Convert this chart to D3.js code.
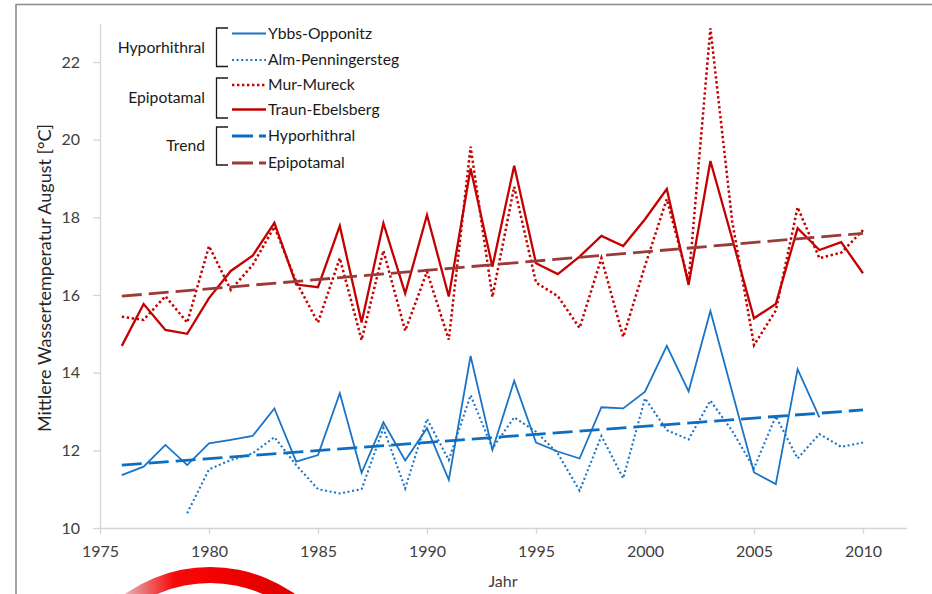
<!DOCTYPE html>
<html>
<head>
<meta charset="utf-8">
<script src="https://cdn.jsdelivr.net/npm/d3@7"></script>
<style>
  html, body { margin: 0; padding: 0; background: #fff; }
  svg { display: block; font-family: Lato, "Open Sans", sans-serif; }
</style>
</head>
<body>
<svg id="chart" width="932" height="594"></svg>
<script>
// August mean water temperature per year and river station
const years = [1976, 1977, 1978, 1979, 1980, 1981, 1982, 1983, 1984, 1985,
               1986, 1987, 1988, 1989, 1990, 1991, 1992, 1993, 1994, 1995,
               1996, 1997, 1998, 1999, 2000, 2001, 2002, 2003, 2004, 2005,
               2006, 2007, 2008, 2009, 2010];

const ybbsOpponitz = [11.36, 11.58, 12.14, 11.62, 12.18, 12.27, 12.37, 13.08, 11.71, 11.88,
                      13.47, 11.42, 12.72, 11.74, 12.57, 11.24, 14.43, 12.01, 13.79, 12.20,
                      11.97, 11.79, 13.11, 13.08, 13.51, 14.69, 13.52, 15.59, 13.50, 11.43,
                      11.13, 14.09, 12.85, null, null];

const almPenningersteg = [null, null, null, 10.38, 11.51, 11.75, 11.92, 12.34, 11.62, 11.00,
                          10.89, 11.00, 12.57, 11.02, 12.81, 11.75, 13.42, 12.05, 12.85, 12.48,
                          11.92, 10.96, 12.37, 11.28, 13.34, 12.52, 12.28, 13.28, 12.50, 11.54,
                          12.88, 11.79, 12.42, 12.09, 12.20];

const murMureck = [15.44, 15.36, 15.97, 15.29, 17.26, 16.13, 16.77, 17.76, 16.34, 15.29,
                   16.95, 14.84, 17.14, 15.08, 16.60, 14.85, 19.82, 15.95, 18.79, 16.32,
                   15.97, 15.15, 16.95, 14.92, 16.75, 18.47, 16.35, 22.87, 17.90, 14.71,
                   15.60, 18.26, 16.95, 17.09, 17.67];

const traunEbelsberg = [14.69, 15.77, 15.10, 15.00, 15.92, 16.62, 17.01, 17.86, 16.27, 16.20,
                        17.78, 15.29, 17.85, 16.04, 18.06, 15.96, 19.26, 16.73, 19.33, 16.82,
                        16.54, 16.99, 17.52, 17.26, 17.95, 18.73, 16.26, 19.45, 17.45, 15.40,
                        15.77, 17.72, 17.16, 17.36, 16.56];

// Linear trends (start and end of the fitted line)
const trendYears = [1976, 2010];
const trendHyporhithral = [11.62, 13.04];
const trendEpipotamal = [15.97, 17.59];

const xTicks = [1975, 1980, 1985, 1990, 1995, 2000, 2005, 2010];
const yTicks = [10, 12, 14, 16, 18, 20, 22];

const BLUE = "#1a74c6", RED = "#c40000", TREND_BLUE = "#0a6fc2", TREND_RED = "#9a3b38";

const series = [
  { name: "Ybbs-Opponitz", values: ybbsOpponitz, color: BLUE, width: 1.8, dash: null },
  { name: "Alm-Penningersteg", values: almPenningersteg, color: BLUE, width: 2.1, dash: "2,2.6" },
  { name: "Mur-Mureck", values: murMureck, color: RED, width: 2.5, dash: "2.4,2.6" },
  { name: "Traun-Ebelsberg", values: traunEbelsberg, color: RED, width: 2.3, dash: null }
];
const trends = [
  { name: "Hyporhithral", values: trendHyporhithral, color: TREND_BLUE },
  { name: "Epipotamal", values: trendEpipotamal, color: TREND_RED }
];

const svg = d3.select("#chart");
const x = d3.scaleLinear().domain([1975, 2012]).range([100, 906.6]);
const y = d3.scaleLinear().domain([10, 23]).range([528, 23.2]);

// Outer frame
svg.append("path")
  .attr("d", "M16,600 V4.5 H940")
  .attr("fill", "none").attr("stroke", "#8c8c8c").attr("stroke-width", 1.6);

// Axes
const xAxis = svg.append("g").attr("transform", "translate(0,528)")
  .call(d3.axisBottom(x).tickValues(xTicks).tickFormat(d3.format("d"))
    .tickSize(6).tickSizeOuter(0).tickPadding(12));
const yAxis = svg.append("g").attr("transform", "translate(100,0)")
  .call(d3.axisLeft(y).tickValues(yTicks).tickSize(7).tickSizeOuter(0).tickPadding(13));
[xAxis, yAxis].forEach(g => {
  g.select(".domain").attr("stroke", "#d4d4d4").attr("stroke-width", 1.3);
  g.selectAll(".tick line").attr("stroke", "#d4d4d4").attr("stroke-width", 1.3);
  g.selectAll(".tick text").attr("fill", "#404040")
    .style("font-family", "Lato, sans-serif").style("font-size", "16px");
});

// Axis titles
svg.append("text").attr("x", 503).attr("y", 587).attr("text-anchor", "middle")
  .attr("fill", "#404040").style("font-size", "16px").text("Jahr");
svg.append("text")
  .attr("transform", "translate(51,278) rotate(-90)")
  .attr("text-anchor", "middle").attr("fill", "#262626").style("font-size", "18px")
  .text("Mittlere Wassertemperatur August [°C]");

// Data lines
const line = d3.line()
  .defined(d => d.v != null)
  .x(d => x(d.year)).y(d => y(d.v));

const plot = svg.append("g");
series.forEach(s => {
  plot.append("path")
    .datum(years.map((yr, i) => ({ year: yr, v: s.values[i] })))
    .attr("d", line)
    .attr("fill", "none").attr("stroke", s.color).attr("stroke-width", s.width)
    .attr("stroke-dasharray", s.dash).attr("stroke-linejoin", "miter");
});
trends.forEach(t => {
  plot.append("path")
    .datum(trendYears.map((yr, i) => ({ year: yr, v: t.values[i] })))
    .attr("d", line)
    .attr("fill", "none").attr("stroke", t.color).attr("stroke-width", 2.8)
    .attr("stroke-dasharray", "20,7");
});

// Legend with grouping brackets
const legend = svg.append("g").style("font-size", "15.7px").attr("fill", "#1a1a1a");
const groups = [
  { label: "Hyporhithral", top: 28, bottom: 66.5, items: [
      { text: "Ybbs-Opponitz", s: series[0], y: 33.5 },
      { text: "Alm-Penningersteg", s: series[1], y: 60 } ] },
  { label: "Epipotamal", top: 78, bottom: 118, items: [
      { text: "Mur-Mureck", s: series[2], y: 85 },
      { text: "Traun-Ebelsberg", s: series[3], y: 109.5 } ] },
  { label: "Trend", top: 127, bottom: 165, items: [
      { text: "Hyporhithral", s: { color: TREND_BLUE, width: 2.8, dash: "21,6" }, y: 136 },
      { text: "Epipotamal", s: { color: TREND_RED, width: 2.8, dash: "21,6" }, y: 163 } ] }
];
groups.forEach(g => {
  legend.append("path")
    .attr("d", `M228,${g.top} H216.5 V${g.bottom} H228`)
    .attr("fill", "none").attr("stroke", "#1a1a1a").attr("stroke-width", 1.3);
  legend.append("text").attr("x", 205).attr("y", (g.top + g.bottom) / 2)
    .attr("dy", "0.35em").attr("text-anchor", "end").text(g.label);
  g.items.forEach(it => {
    legend.append("line")
      .attr("x1", 232).attr("x2", 266).attr("y1", it.y).attr("y2", it.y)
      .attr("stroke", it.s.color).attr("stroke-width", it.s.width)
      .attr("stroke-dasharray", it.s.dash);
    legend.append("text").attr("x", 268).attr("y", it.y).attr("dy", "0.35em").text(it.text);
  });
});

// Red ring emblem at the bottom edge (gradient in the ring's local coordinates)
const defs = svg.append("defs");
const grad = defs.append("linearGradient").attr("id", "ringGrad")
  .attr("gradientUnits", "userSpaceOnUse")
  .attr("x1", -85).attr("y1", 0).attr("x2", 90).attr("y2", 0);
grad.append("stop").attr("offset", "0%").attr("stop-color", "#e6b3b8");
grad.append("stop").attr("offset", "28%").attr("stop-color", "#f60a0a");
grad.append("stop").attr("offset", "60%").attr("stop-color", "#f00000");
grad.append("stop").attr("offset", "100%").attr("stop-color", "#dc0000");
const ring = d3.arc().innerRadius(131).outerRadius(147).startAngle(0).endAngle(2 * Math.PI);
svg.append("path").attr("transform", "translate(210,714)")
  .attr("d", ring()).attr("fill", "url(#ringGrad)");
</script>
</body>
</html>
